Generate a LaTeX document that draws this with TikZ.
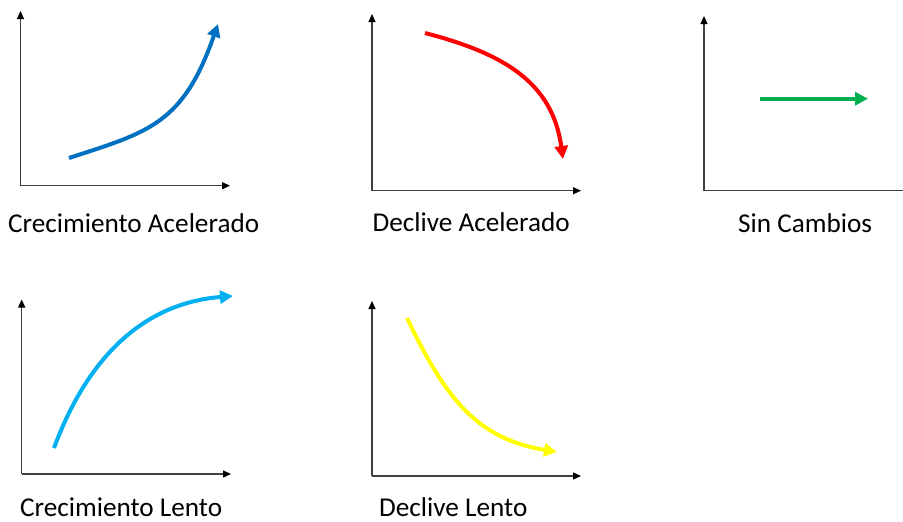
\documentclass[tikz,border=0pt]{standalone}
\usepackage{fontspec}
\setmainfont{Carlito}
\usetikzlibrary{arrows.meta}
\definecolor{cblue}{HTML}{0070C0}
\definecolor{cred}{HTML}{FF0000}
\definecolor{cgreen}{HTML}{00B050}
\definecolor{ccyan}{HTML}{00B0F0}
\definecolor{cyellow}{HTML}{FFFF00}
\definecolor{axisgray}{HTML}{404040}
\tikzset{
  axisline/.style={draw=axisgray, line width=1.2pt, -{Triangle[length=8pt,width=7pt,fill=black,color=black]}},
  axisplain/.style={draw=axisgray, line width=1.2pt},
  trend/.style={line width=4pt, -{Triangle[length=13pt,width=13pt]}},
  lbl/.style={anchor=base west, inner sep=0pt, font=\fontsize{27.2}{30}\selectfont}
}
\begin{document}
\begin{tikzpicture}[x=1pt,y=-1pt]
\useasboundingbox (0,0) rectangle (903,522);
% axes coordinates
\coordinate (o1) at (20.5,185.7); \coordinate (y1) at (20.5,11); \coordinate (x1) at (230,185.7);
\coordinate (o2) at (372,190.7); \coordinate (y2) at (372,14); \coordinate (x2) at (581,190.7);
\coordinate (o3) at (704,190.7); \coordinate (y3) at (704,16); \coordinate (x3) at (903,190.7);
\coordinate (o4) at (21.7,474); \coordinate (y4) at (21.7,299.5); \coordinate (x4) at (231,474);
\coordinate (o5) at (372,476); \coordinate (y5) at (372,301); \coordinate (x5) at (581,476);
\draw[axisline] (o1) -- (y1); \draw[axisline] (o1) -- (x1);
\draw[axisline] (o2) -- (y2); \draw[axisline] (o2) -- (x2);
\draw[axisline] (o3) -- (y3); \draw[axisplain] (o3) -- (x3);
\draw[axisline] (o4) -- (y4); \draw[axisline] (o4) -- (x4);
\draw[axisline] (o5) -- (y5); \draw[axisline] (o5) -- (x5);
% trend end points
\coordinate (b1) at (69,158);  \coordinate (b2) at (218,24);
\coordinate (r1) at (425,33);  \coordinate (r2) at (563,159);
\coordinate (g1) at (760,98.7); \coordinate (g2) at (868,98.7);
\coordinate (c1) at (54,448);  \coordinate (c2) at (233,296);
\coordinate (yy1) at (407,318); \coordinate (yy2) at (557,452);
% trends
\draw[trend, cblue] (b1) .. controls (149,132) and (183,124) .. (b2);
\draw[trend, cred] (r1) .. controls (505,53.8) and (552.5,83) .. (r2);
\draw[trend, cgreen] (g1) -- (g2);
\draw[trend, ccyan] (c1) .. controls (87.3,358) and (143,303.2) .. (c2);
\draw[trend, cyellow] (yy1) .. controls (445.4,398) and (476,438.4) .. (yy2);
% labels
\node[lbl] (l1) at (8,232) {Crecimiento Acelerado};
\node[lbl] (l2) at (372.5,231.5) {Declive Acelerado};
\node[lbl] (l3) at (738,232.5) {Sin Cambios};
\node[lbl] (l4) at (20,516.3) {Crecimiento Lento};
\node[lbl] (l5) at (379,516.3) {Declive Lento};
\end{tikzpicture}
\end{document}
